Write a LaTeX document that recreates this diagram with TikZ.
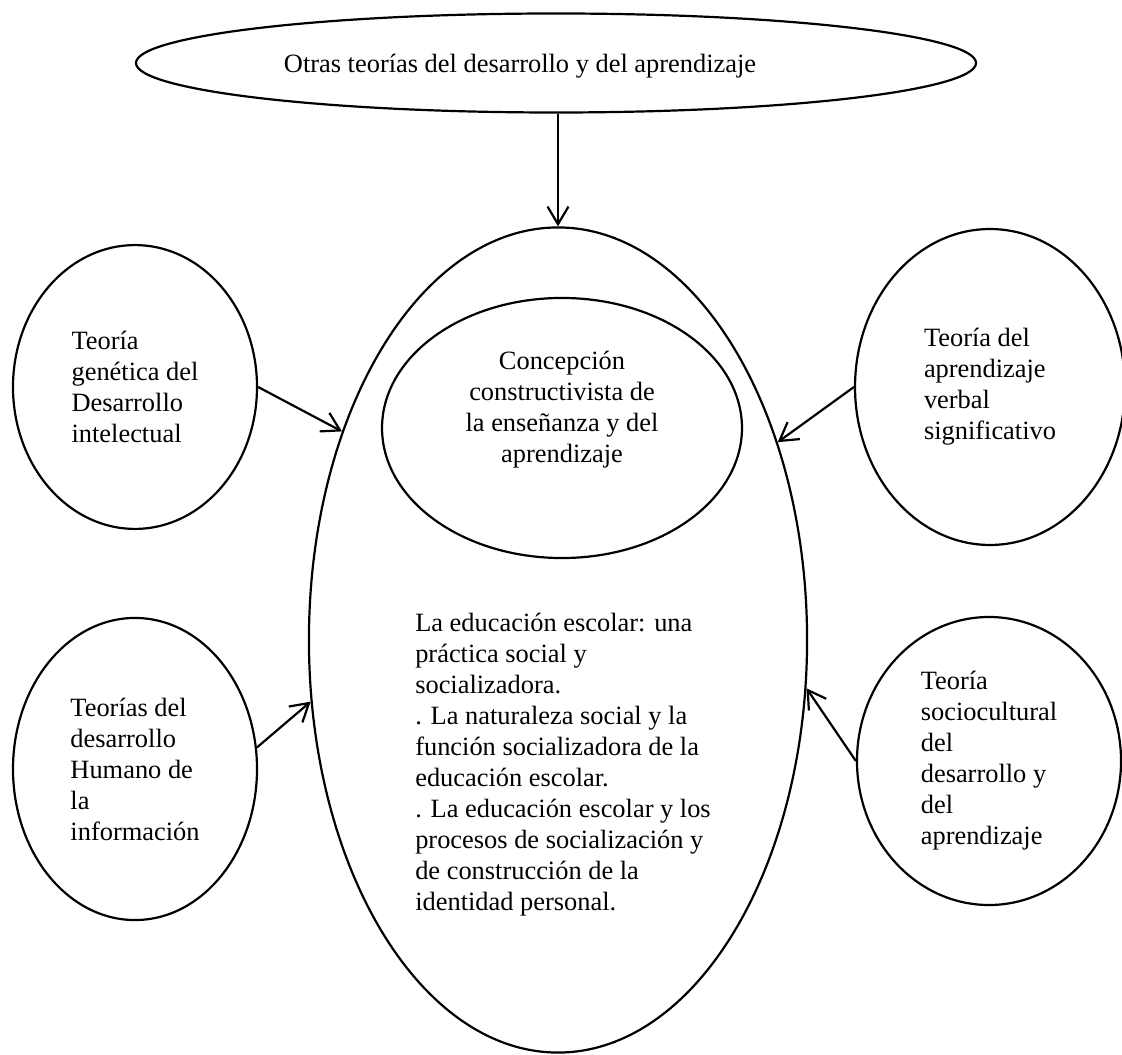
\documentclass[tikz,border=0pt]{standalone}
\usepackage{fontspec}
\setmainfont{Liberation Serif}
\usepackage{tikz}
\usetikzlibrary{arrows.meta,shapes.geometric,positioning}

\begin{document}
\begin{tikzpicture}[x=0.4545pt, y=-0.4545pt,
  ovalo/.style={draw, ellipse, line width=1pt, inner sep=0pt, font=\fontsize{12}{14.1}\selectfont},
  flecha/.style={-{Straight Barb[length=8pt,width=9.5pt]}, line width=1pt},
  texto/.style={font=\fontsize{12}{14.1}\selectfont, inner sep=0pt}]
\useasboundingbox (0,0) rectangle (1122,1055);
% ovalos
\node[ovalo, minimum width=381.8pt, minimum height=45pt] (otras) at (556,63) {};
\node[texto] (otrastxt) at (520,66) {Otras teorías del desarrollo y del aprendizaje};
\node[ovalo, minimum width=226.4pt, minimum height=375pt] (central) at (558,640) {};
\node[ovalo, minimum width=163.6pt, minimum height=118.2pt] (concepcion) at (562,428) {};
\node[texto, align=center] (concepciontxt) at (562,410) {
Concepción\\
constructivista de\\
la enseñanza y del\\
aprendizaje
};
\node[texto, align=left] (escolar) at (563,765) {
La educación escolar: una\\
práctica social y\\
socializadora.\\
. La naturaleza social y la\\
función socializadora de la\\
educación escolar.\\
. La educación escolar y los\\
procesos de socialización y\\
de construcción de la\\
identidad personal.
};
\node[ovalo, minimum width=110.9pt, minimum height=129pt, align=left] (genetica) at (135,387) {
Teoría\\
genética del\\
Desarrollo\\
intelectual
};
\node[ovalo, minimum width=122.7pt, minimum height=143.6pt, align=left] (verbal) at (990,387) {
Teoría del\\
aprendizaje\\
verbal\\
significativo
};
\node[ovalo, minimum width=110.9pt, minimum height=137.3pt, align=left] (humano) at (135,769) {
Teorías del\\
desarrollo\\
Humano de\\
la\\
información
};
\node[ovalo, minimum width=120pt, minimum height=130.9pt, align=left] (socio) at (989,761) {
Teoría\\
sociocultural\\
del\\
desarrollo y\\
del\\
aprendizaje
};
% flechas
\draw[flecha] (otras.south -| central.north) -- (central.north);
\draw[flecha] (genetica.east) -- (central.136);
\draw[flecha] (verbal.west) -- (central.42);
\draw[flecha] (humano.10) -- (central.194);
\draw[flecha] (socio.west) -- (central.349);
\end{tikzpicture}
\end{document}
